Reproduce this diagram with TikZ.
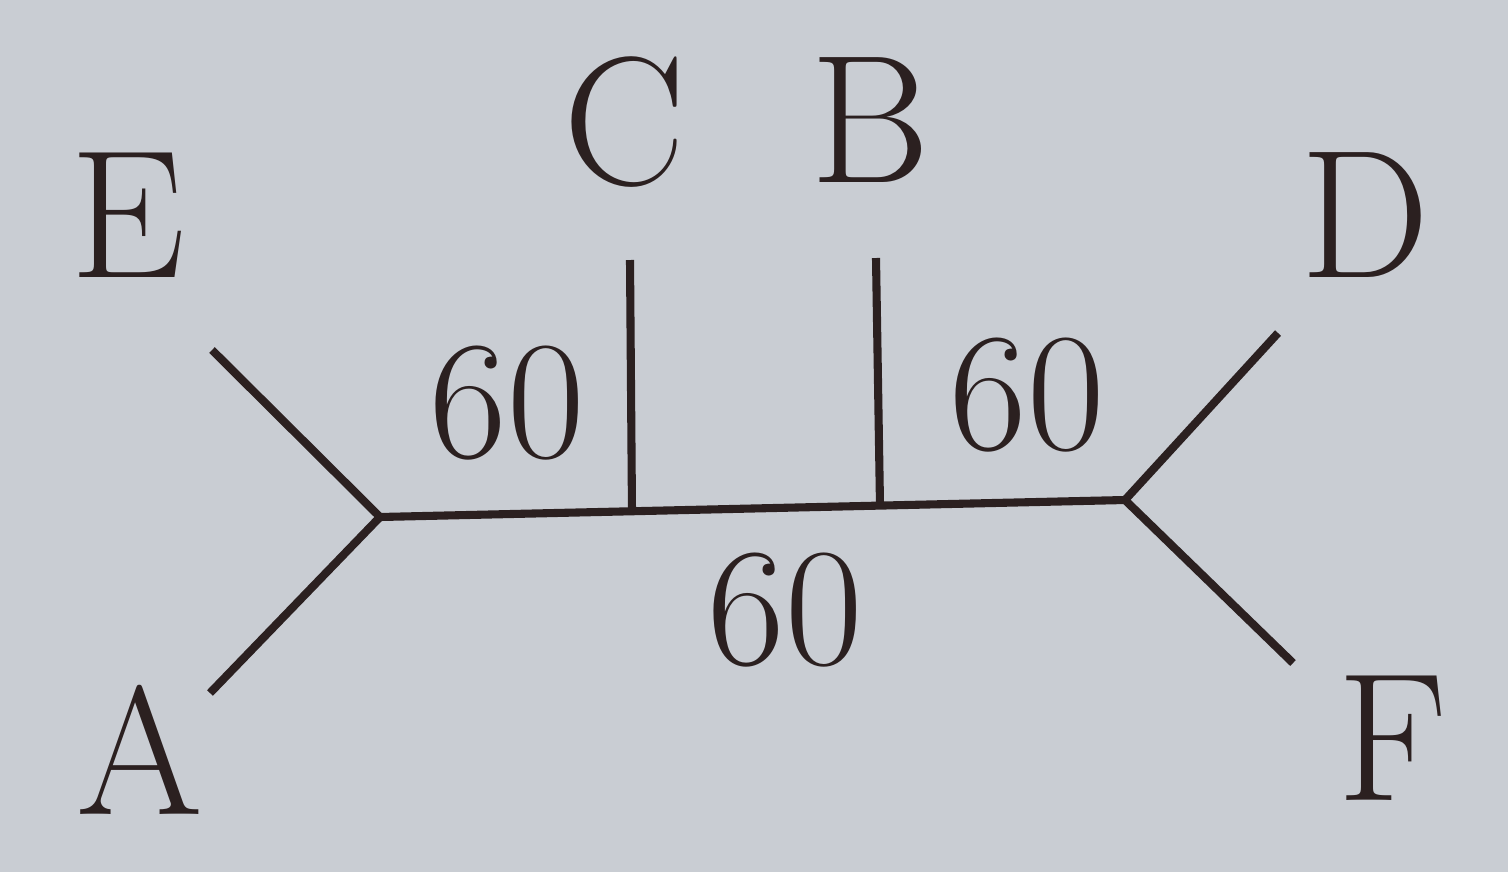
\documentclass[tikz,border=0pt]{standalone}
\usepackage{xcolor}
\definecolor{cPaper}{HTML}{C9CDD3}
\definecolor{cInk}{HTML}{2B2020}
\usepackage{tikz}
\usetikzlibrary{positioning,backgrounds}
\tikzset{
  tree-edge/.style={draw=cInk,line width=2.3pt,line cap=butt},
  leaf-label/.style={text=cInk,inner sep=0pt,font=\fontsize{52}{60}\selectfont},
  weight-label/.style={text=cInk,inner sep=0pt,font=\fontsize{48}{56}\selectfont},
}
\begin{document}
\begin{tikzpicture}[x=0.01cm,y=-0.01cm]
  % page frame
  \fill[cPaper] (0,0) rectangle (1508,872);
  \useasboundingbox (0,0) rectangle (1508,872);
  % inner vertices and leaf ends
  \coordinate (left)  at (380,517);
  \coordinate (right) at (1125,500);
  \coordinate (cfoot) at (632,512);
  \coordinate (bfoot) at (880,505);
  \coordinate (ctip)  at (630,260);
  \coordinate (btip)  at (876,258);
  \coordinate (etip)  at (212,350);
  \coordinate (atip)  at (210,693);
  \coordinate (dtip)  at (1278,333);
  \coordinate (ftip)  at (1293,663);
  % branches
  \draw[tree-edge] (left) -- (right);
  \draw[tree-edge] (cfoot) -- (ctip);
  \draw[tree-edge] (bfoot) -- (btip);
  \draw[tree-edge] (left) -- (etip);
  \draw[tree-edge] (left) -- (atip);
  \draw[tree-edge] (right) -- (dtip);
  \draw[tree-edge] (right) -- (ftip);
  % leaves
  \node[leaf-label] (E) at (128,215) {E};
  \node[leaf-label] (C) at (625,122) {C};
  \node[leaf-label] (B) at (870,120) {B};
  \node[leaf-label] (D) at (1365,215) {D};
  \node[leaf-label] (A) at (140,750) {A};
  \node[leaf-label] (F) at (1393,738) {F};
  % weights
  \node[weight-label] (wl) at (507,403) {60};
  \node[weight-label] (wr) at (1027,395) {60};
  \node[weight-label] (wm) at (785,610) {60};
\end{tikzpicture}
\end{document}
